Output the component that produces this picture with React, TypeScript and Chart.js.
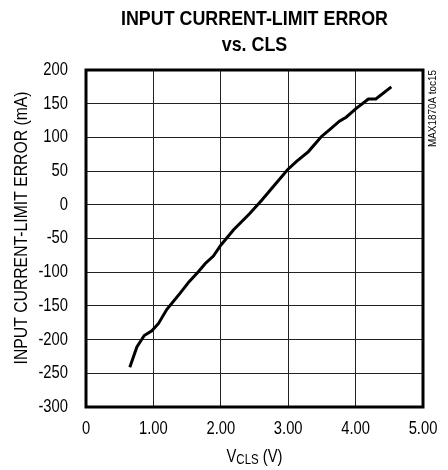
import React, { useEffect, useRef } from "react";
import { Chart, registerables } from "chart.js";
Chart.register(...registerables);

const vcls = [0.65, 0.755, 0.864, 0.977, 1.076, 1.2, 1.397, 1.53, 1.66, 1.77, 1.89, 2.0, 2.19, 2.43, 2.61, 2.83, 2.99, 3.12, 3.3, 3.49, 3.62, 3.76, 3.86, 4.01, 4.19, 4.3, 4.53];
const errorMa = [-241, -211, -194, -187, -176, -155, -131, -114, -100, -87, -76, -60, -37, -13, 7, 33, 52, 64, 79, 101, 112, 124, 130, 143, 157, 157, 175];
const xTickLabels = ["0", "1.00", "2.00", "3.00", "4.00", "5.00"];
const titleLines = ["INPUT CURRENT-LIMIT ERROR", "vs. CLS"];
const yTitle = "INPUT CURRENT-LIMIT ERROR (mA)";
const xTitleMain = "V";
const xTitleSub = "CLS";
const xTitleRest = " (V)";
const sideNote = "MAX1870A toc15";

const FONT = '"Liberation Sans", Arial, sans-serif';
const NARROW = 0.82;

function txt(ctx: any, s: string, x: number, y: number, font: string, align: string, base: string, sx: number, rot = 0) {
  ctx.save();
  ctx.translate(x, y);
  if (rot) ctx.rotate(rot);
  ctx.scale(sx, 1);
  ctx.font = font;
  ctx.textAlign = align;
  ctx.textBaseline = base;
  ctx.fillText(s, 0, 0);
  ctx.restore();
}

const decor = {
  id: "decor",
  afterDraw(chart: any) {
    const { ctx, chartArea } = chart;
    const { left, right, top, bottom } = chartArea;
    ctx.save();
    ctx.strokeStyle = "#000";
    ctx.lineWidth = 3;
    ctx.strokeRect(left, top, right - left, bottom - top);
    ctx.fillStyle = "#000";
    const cx = (left + right) / 2;
    // ticks
    const xs = chart.scales.x;
    xs.ticks.forEach((t: any) => {
      const px = xs.getPixelForValue(t.value);
      const lbl = xTickLabels[Math.round(t.value)] ?? "";
      txt(ctx, lbl, px, 429, `18px ${FONT}`, "center", "middle", NARROW);
    });
    const ys = chart.scales.y;
    ys.ticks.forEach((t: any) => {
      const py = ys.getPixelForValue(t.value);
      txt(ctx, String(t.value), 68, py, `18px ${FONT}`, "right", "middle", NARROW);
    });
    // title
    ctx.font = `bold 21px ${FONT}`;
    const w1 = ctx.measureText(titleLines[0]).width;
    const ts = 267 / w1;
    txt(ctx, titleLines[0], cx, 19, `bold 21px ${FONT}`, "center", "middle", ts);
    txt(ctx, titleLines[1], cx, 45, `bold 21px ${FONT}`, "center", "middle", ts);
    // y title
    ctx.font = `18px ${FONT}`;
    const wy = ctx.measureText(yTitle).width;
    txt(ctx, yTitle, 22, 228, `18px ${FONT}`, "center", "middle", 273 / wy, -Math.PI / 2);
    // x title with subscript
    ctx.font = `18px ${FONT}`;
    const wV = ctx.measureText(xTitleMain).width * NARROW;
    const wR = ctx.measureText(xTitleRest).width * NARROW;
    ctx.font = `14px ${FONT}`;
    const wS = ctx.measureText(xTitleSub).width * NARROW;
    const total = wV + wS + wR;
    let x = cx - total / 2;
    txt(ctx, xTitleMain, x, 462, `18px ${FONT}`, "left", "alphabetic", NARROW);
    x += wV;
    txt(ctx, xTitleSub, x, 464, `14px ${FONT}`, "left", "alphabetic", NARROW);
    x += wS;
    txt(ctx, xTitleRest, x, 462, `18px ${FONT}`, "left", "alphabetic", NARROW);
    // side note
    ctx.font = `11px ${FONT}`;
    const wn = ctx.measureText(sideNote).width;
    txt(ctx, sideNote, 433, top, `11px ${FONT}`, "right", "middle", 77 / wn, -Math.PI / 2);
    ctx.restore();
  },
};

export default function App() {
  const ref = useRef<HTMLCanvasElement | null>(null);
  useEffect(() => {
    if (!ref.current) return;
    const chart = new Chart(ref.current, {
      type: "scatter",
      data: {
        datasets: [
          {
            data: vcls.map((v, i) => ({ x: v, y: errorMa[i] })),
            showLine: true,
            borderColor: "#000",
            borderWidth: 3,
            pointRadius: 0,
            tension: 0,
          },
        ],
      },
      options: {
        responsive: false,
        animation: false,
        layout: { padding: { top: 70, right: 25, left: 0, bottom: 0 } },
        plugins: { legend: { display: false }, tooltip: { enabled: false }, title: { display: false } },
        scales: {
          x: {
            type: "linear",
            min: 0,
            max: 5,
            afterFit: (s: any) => { s.height = 63; },
            ticks: { stepSize: 1, display: false },
            grid: { color: "#222", lineWidth: 1, drawTicks: false },
            border: { display: false },
          },
          y: {
            min: -300,
            max: 200,
            afterFit: (s: any) => { s.width = 86; },
            ticks: { stepSize: 50, display: false },
            grid: { color: "#222", lineWidth: 1, drawTicks: false },
            border: { display: false },
          },
        },
      },
      plugins: [decor],
    });
    return () => chart.destroy();
  }, []);
  return (
    <div style={{ position: "fixed", left: 0, top: 0, width: 448, height: 470, background: "#fff" }}>
      <canvas ref={ref} width={448} height={470} style={{ width: 448, height: 470 }} />
    </div>
  );
}
